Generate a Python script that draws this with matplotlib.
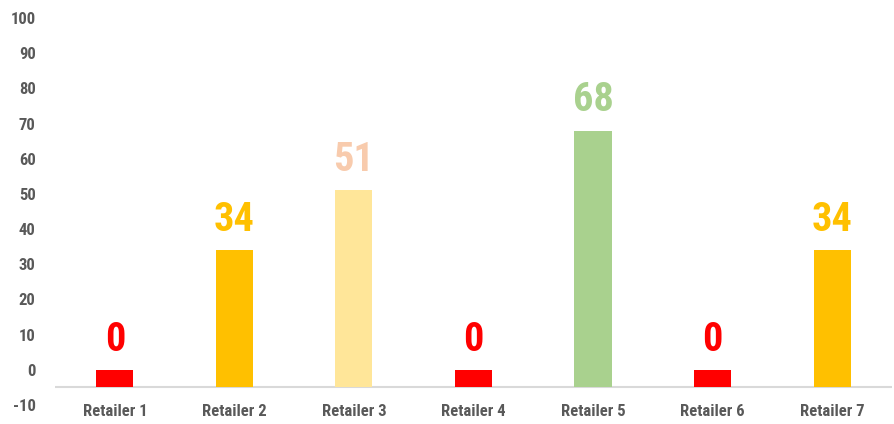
import matplotlib
matplotlib.use('Agg')
import matplotlib.pyplot as plt
import numpy as np

# data
retailers = ['Retailer 1', 'Retailer 2', 'Retailer 3', 'Retailer 4',
             'Retailer 5', 'Retailer 6', 'Retailer 7']
scores = [0, 34, 51, 0, 68, 0, 34]
bar_colors = ['#FF0000', '#FFC000', '#FFE699', '#FF0000', '#A9D18E', '#FF0000', '#FFC000']
label_colors = ['#FF0000', '#FFC000', '#F8CBAD', '#FF0000', '#A9D18E', '#FF0000', '#FFC000']
y_ticks = [-10, 0, 10, 20, 30, 40, 50, 60, 70, 80, 90, 100]

plt.rcParams['axes.unicode_minus'] = False
font = ['Roboto Condensed', 'Liberation Sans', 'DejaVu Sans']
base = -5

fig = plt.figure(figsize=(8.95, 4.24), dpi=100)
ax = fig.add_axes([0.0615, 0.0448, 0.935, 0.9127])

x = np.arange(len(retailers))
heights = [s - base for s in scores]
ax.bar(x, heights, bottom=base, width=0.31, color=bar_colors, zorder=2)

for xi, s, c in zip(x, scores, label_colors):
    ax.annotate(str(s), (xi, s), xytext=(0, 8), textcoords='offset points',
                ha='center', va='bottom', color=c, fontsize=29,
                fontweight='bold', family=font)

ax.axhline(base, color='#D9D9D9', lw=1.5, zorder=1)

ax.set_xlim(-0.5, 6.5)
ax.set_ylim(-10, 100)
ax.set_yticks(y_ticks)
ax.set_xticks(x)
ax.set_xticklabels(retailers)

for lab in ax.get_xticklabels() + ax.get_yticklabels():
    lab.set_family(font)
    lab.set_fontweight('bold')
    lab.set_color('#595959')
    lab.set_fontsize(12)

ax.tick_params(axis='x', length=0, pad=-1)
ax.tick_params(axis='y', length=0, pad=14)
for sp in ax.spines.values():
    sp.set_visible(False)

fig.savefig('out.png', dpi=100)
